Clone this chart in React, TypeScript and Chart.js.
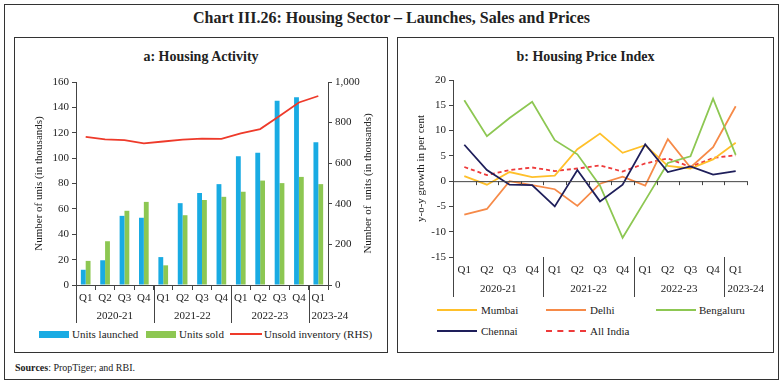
import React, { useEffect, useRef } from "react";
import { Chart, registerables } from "chart.js";
Chart.register(...registerables);

// ---------- data ----------
const quarters = ["Q1", "Q2", "Q3", "Q4", "Q1", "Q2", "Q3", "Q4", "Q1", "Q2", "Q3", "Q4", "Q1"];
const years = ["2020-21", "2021-22", "2022-23", "2023-24"];
const yearSpans = [4, 4, 4, 1];

const unitsLaunched = [12, 19.5, 54.5, 53, 22, 64.5, 72.5, 79.5, 101.5, 104.2, 145.2, 148, 112.5];
const unitsSold = [19, 34.5, 58.5, 65.5, 15.5, 55, 67, 69.5, 73.5, 82.3, 80.3, 85.2, 79.5];
const unsoldInventory = [730, 717, 714, 698, 707, 716, 721, 720, 747, 768, 833, 899, 931];

const mumbai = [1.0, -0.7, 1.8, 0.8, 1.1, 6.3, 9.4, 5.6, 7.1, 3.0, 2.5, 4.3, 7.6];
const delhi = [-6.6, -5.5, 0.0, -0.8, -1.6, -4.9, -0.5, 0.9, -0.9, 8.3, 2.7, 6.7, 14.8];
const bengaluru = [16.0, 8.9, 12.5, 15.7, 8.1, 5.3, -0.9, -11.2, -3.8, 3.6, 4.9, 16.3, 5.2];
const chennai = [7.2, 2.2, -0.7, -0.8, -5.0, 2.2, -4.0, -0.7, 7.3, 1.8, 2.9, 1.3, 2.0];
const allIndia = [2.8, 1.2, 2.2, 2.7, 2.0, 2.5, 3.1, 1.9, 3.5, 4.5, 2.8, 4.6, 5.1];

// ---------- styles ----------
const FONT = "'Liberation Serif', 'DejaVu Serif', serif";
const TXT = "#222";
const AXIS = "#444";
const BLUE = "#19ABE3";
const GREEN = "#8DC752";
const RED = "#EE3A2A";
const C_MUMBAI = "#FFC02A";
const C_DELHI = "#F68A48";
const C_BENG = "#8DC752";
const C_CHEN = "#1E1E5A";
const C_ALL = "#EE3A3A";

function groupPlugin(yearY: number, sepLen: number, zeroLine: boolean, rightTitle?: { text: string; x: number }) {
  return {
    id: "groupAxis" + (zeroLine ? "R" : "L"),
    afterDraw(chart: any) {
      const { ctx, chartArea, scales } = chart;
      const xs = scales.x;
      const step = xs.getPixelForValue(1) - xs.getPixelForValue(0);
      ctx.save();
      if (zeroLine) {
        const y0 = scales.y.getPixelForValue(0);
        ctx.strokeStyle = AXIS;
        ctx.lineWidth = 1;
        ctx.beginPath();
        ctx.moveTo(chartArea.left, y0 + 0.5);
        ctx.lineTo(chartArea.right, y0 + 0.5);
        for (let i = 1; i <= quarters.length; i++) {
          const bx = Math.round(xs.getPixelForValue(i - 1) + step / 2) + 0.5;
          ctx.moveTo(bx, y0);
          ctx.lineTo(bx, y0 + 4);
        }
        ctx.stroke();
      }
      // separators and year labels
      ctx.strokeStyle = AXIS;
      ctx.lineWidth = 1;
      ctx.font = `11px ${FONT}`;
      ctx.fillStyle = TXT;
      ctx.textBaseline = "middle";
      let start = 0;
      years.forEach((yr, gi) => {
        const left = xs.getPixelForValue(start) - step / 2;
        const right = xs.getPixelForValue(start + yearSpans[gi] - 1) + step / 2;
        const sx = Math.round(left) + 0.5;
        ctx.beginPath();
        ctx.moveTo(sx, chartArea.bottom);
        ctx.lineTo(sx, chartArea.bottom + sepLen);
        ctx.stroke();
        const w = ctx.measureText(yr).width;
        let tx = (left + right) / 2 - w / 2;
        if (tx < left + 2) tx = left + 3;
        ctx.textAlign = "left";
        ctx.fillText(yr, tx, yearY);
        start += yearSpans[gi];
      });
      if (rightTitle) {
        ctx.translate(rightTitle.x, (chartArea.top + chartArea.bottom) / 2);
        ctx.rotate(-Math.PI / 2);
        ctx.textAlign = "center";
        ctx.fillText(rightTitle.text, 0, 0);
      }
      ctx.restore();
    },
  };
}

export default function App() {
  const leftRef = useRef<HTMLCanvasElement>(null);
  const rightRef = useRef<HTMLCanvasElement>(null);

  useEffect(() => {
    document.body.style.margin = "0";
    const tickFont = { family: FONT, size: 11 };
    const c1 = new Chart(leftRef.current as HTMLCanvasElement, {
      type: "bar",
      data: {
        labels: quarters,
        datasets: [
          {
            type: "line",
            label: "Unsold inventory (RHS)",
            data: unsoldInventory,
            yAxisID: "y1",
            borderColor: RED,
            backgroundColor: RED,
            borderWidth: 1.8,
            pointRadius: 0,
            tension: 0,
            order: 0,
          } as any,
          {
            type: "bar",
            label: "Units launched",
            data: unitsLaunched,
            yAxisID: "y",
            backgroundColor: BLUE,
            barPercentage: 1,
            categoryPercentage: 0.5,
            order: 1,
          },
          {
            type: "bar",
            label: "Units sold",
            data: unitsSold,
            yAxisID: "y",
            backgroundColor: GREEN,
            barPercentage: 1,
            categoryPercentage: 0.5,
            order: 1,
          },
        ],
      },
      options: {
        responsive: false,
        animation: false,
        layout: { padding: { top: 20, left: 0, right: 0, bottom: 0 } },
        plugins: { legend: { display: false }, tooltip: { enabled: false } },
        scales: {
          x: {
            offset: true,
            grid: { display: true, drawOnChartArea: false, drawTicks: true, tickLength: 5, color: AXIS, offset: true },
            border: { display: true, color: AXIS },
            ticks: { font: tickFont, color: TXT, padding: 2, maxRotation: 0, autoSkip: false },
            afterFit: (s: any) => { s.height = 41; },
          },
          y: {
            position: "left",
            min: 0,
            max: 160,
            ticks: { stepSize: 20, font: tickFont, color: TXT, padding: 3 },
            grid: { drawOnChartArea: false, tickLength: 4, color: AXIS },
            border: { display: true, color: AXIS },
            title: { display: true, text: "Number of unis (in thousands)", font: tickFont, color: TXT, padding: { top: 18, bottom: 0 } },
            afterFit: (s: any) => { s.width = 61; },
          },
          y1: {
            position: "right",
            min: 0,
            max: 1000,
            ticks: { stepSize: 200, font: tickFont, color: TXT, padding: 3, callback: (v: any) => Number(v).toLocaleString("en-US") },
            grid: { drawOnChartArea: false, tickLength: 4, color: AXIS },
            border: { display: true, color: AXIS },
            afterFit: (s: any) => { s.width = 58; },
          },
        },
      } as any,
      plugins: [groupPlugin(254, 38, false, { text: "Number of  units (in thousands)", x: 353 })],
    });

    const lineDs = (label: string, data: number[], color: string, dash?: number[]) => ({
      label,
      data,
      borderColor: color,
      backgroundColor: color,
      borderWidth: 1.8,
      borderDash: dash || [],
      pointRadius: 0,
      tension: 0,
    });

    const c2 = new Chart(rightRef.current as HTMLCanvasElement, {
      type: "line",
      data: {
        labels: quarters,
        datasets: [
          lineDs("Chennai", chennai, C_CHEN),
          lineDs("Bengaluru", bengaluru, C_BENG),
          lineDs("Delhi", delhi, C_DELHI),
          lineDs("Mumbai", mumbai, C_MUMBAI),
          lineDs("All India", allIndia, C_ALL, [4, 3]),
        ],
      },
      options: {
        responsive: false,
        animation: false,
        layout: { padding: { top: 18, left: 0, right: 25, bottom: 0 } },
        plugins: { legend: { display: false }, tooltip: { enabled: false } },
        scales: {
          x: {
            offset: true,
            grid: { display: false, drawTicks: false },
            border: { display: false },
            ticks: { font: tickFont, color: TXT, padding: 7, maxRotation: 0, autoSkip: false },
            afterFit: (s: any) => { s.height = 45; },
          },
          y: {
            min: -15,
            max: 20,
            ticks: { stepSize: 5, font: tickFont, color: TXT, padding: 3 },
            grid: { drawOnChartArea: false, tickLength: 4, color: AXIS },
            border: { display: true, color: AXIS },
            title: { display: true, text: "y-o-y growth in per cent", font: tickFont, color: TXT, padding: { top: 17, bottom: 0 } },
            afterFit: (s: any) => { s.width = 55; },
          },
        },
      } as any,
      plugins: [groupPlugin(227, 40, true)],
    });

    return () => {
      c1.destroy();
      c2.destroy();
    };
  }, []);

  const abs = (l: number, t: number, w: number, h: number): React.CSSProperties => ({
    position: "absolute", left: l, top: t, width: w, height: h,
  });
  const legendLine = (l: number, t: number, color: string, dashed = false): React.CSSProperties => ({
    position: "absolute", left: l, top: t, width: 40, height: 0,
    borderTop: `2px ${dashed ? "dashed" : "solid"} ${color}`,
  });
  const legText = (l: number, t: number): React.CSSProperties => ({
    position: "absolute", left: l, top: t - 7, fontSize: 11, lineHeight: "14px", color: TXT, whiteSpace: "pre",
  });

  return (
    <div style={{ position: "relative", width: 783, height: 385, background: "#fff", fontFamily: FONT, color: TXT }}>
      <div style={{ ...abs(4, 4, 775, 376), border: "1px solid #333", boxSizing: "border-box" }} />
      <div style={{ position: "absolute", left: 0, width: 783, top: 8, textAlign: "center", fontSize: 16, fontWeight: "bold", lineHeight: "20px" }}>
        Chart III.26: Housing Sector – Launches, Sales and Prices
      </div>
      {/* left panel */}
      <div style={{ ...abs(14, 37, 374, 316), border: "1px solid #333", boxSizing: "border-box" }} />
      <div style={{ position: "absolute", left: 14, width: 374, top: 48, textAlign: "center", fontSize: 14, fontWeight: "bold", lineHeight: "18px" }}>
        a: Housing Activity
      </div>
      <canvas ref={leftRef} width={371} height={264} style={{ position: "absolute", left: 15, top: 62, width: 371, height: 264 }} />
      <div style={{ ...abs(39, 331, 30, 7), background: BLUE }} />
      <div style={legText(72, 334)}>Units launched</div>
      <div style={{ ...abs(146, 331, 30, 7), background: GREEN }} />
      <div style={legText(179, 334)}>Units sold</div>
      <div style={{ position: "absolute", left: 230, top: 333, width: 32, height: 0, borderTop: `2px solid ${RED}` }} />
      <div style={legText(264, 334)}>Unsold inventory (RHS)</div>
      {/* right panel */}
      <div style={{ ...abs(397, 37, 377, 316), border: "1px solid #333", boxSizing: "border-box" }} />
      <div style={{ position: "absolute", left: 397, width: 377, top: 48, textAlign: "center", fontSize: 14, fontWeight: "bold", lineHeight: "18px" }}>
        b: Housing Price Index
      </div>
      <canvas ref={rightRef} width={374} height={240} style={{ position: "absolute", left: 398, top: 62, width: 374, height: 240 }} />
      <div style={legendLine(437, 309, C_MUMBAI)} />
      <div style={legText(481, 310)}>Mumbai</div>
      <div style={legendLine(546, 309, C_DELHI)} />
      <div style={legText(590, 310)}>Delhi</div>
      <div style={legendLine(656, 309, C_BENG)} />
      <div style={legText(699, 310)}>Bengaluru</div>
      <div style={legendLine(437, 330, C_CHEN)} />
      <div style={legText(481, 331)}>Chennai</div>
      <div style={legendLine(546, 330, C_ALL, true)} />
      <div style={legText(590, 331)}>All India</div>
      {/* sources */}
      <div style={{ position: "absolute", left: 15, top: 361, fontSize: 10, lineHeight: "13px" }}>
        <b>Sources</b>: PropTiger; and RBI.
      </div>
    </div>
  );
}
